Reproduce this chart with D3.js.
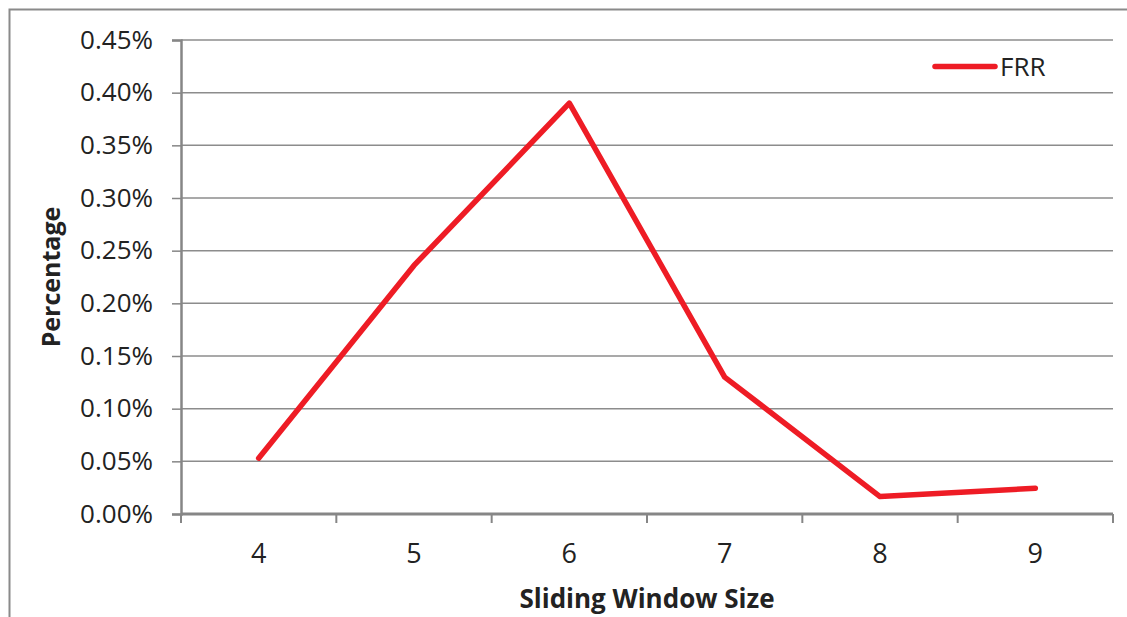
<!DOCTYPE html>
<html>
<head>
<meta charset="utf-8">
<script src="https://cdn.jsdelivr.net/npm/d3@7"></script>
<style>
  html, body { margin: 0; padding: 0; background: #fff; }
  svg { display: block; }
  text { font-family: "Open Sans", "Liberation Sans", sans-serif; fill: #222; }
</style>
</head>
<body>
<svg id="chart" width="1127" height="617"></svg>
<script>
// Window sizes on the x axis and the FRR measured for each (in %)
const windowSizes = ["4", "5", "6", "7", "8", "9"];
const frrValues = [0.053, 0.236, 0.390, 0.130, 0.0165, 0.0245];
const yTicks = [0, 0.05, 0.10, 0.15, 0.20, 0.25, 0.30, 0.35, 0.40, 0.45];
const seriesName = "FRR";
const xTitle = "Sliding Window Size";
const yTitle = "Percentage";

const svg = d3.select("#chart");
const plot = { left: 181, right: 1113, top: 40, bottom: 514 };

// Outer chart border
svg.append("rect")
  .attr("x", 9.5).attr("y", 9.5)
  .attr("width", 1130).attr("height", 620)
  .attr("fill", "none").attr("stroke", "#8a8a8a").attr("stroke-width", 2);

const x = d3.scaleBand().domain(windowSizes).range([plot.left, plot.right]);
const y = d3.scaleLinear().domain([0, 0.45]).range([plot.bottom, plot.top]);

// Horizontal gridlines
svg.append("g").selectAll("line")
  .data(yTicks.filter(d => d > 0))
  .join("line")
  .attr("x1", plot.left).attr("x2", plot.right)
  .attr("y1", d => y(d)).attr("y2", d => y(d))
  .attr("stroke", "#8c8c8c").attr("stroke-width", 1.5);

// Y axis with percent labels
const yAxis = d3.axisLeft(y)
  .tickValues(yTicks)
  .tickFormat(d => d.toFixed(2) + "%")
  .tickSize(9).tickPadding(19);
const gy = svg.append("g").attr("transform", `translate(${plot.left},0)`).call(yAxis);
gy.select(".domain").attr("stroke", "#868686").attr("stroke-width", 2.5);
gy.selectAll(".tick line").attr("stroke", "#868686").attr("stroke-width", 1.5);
gy.selectAll(".tick text").style("font-size", "26px").attr("fill", "#222");

// X axis: ticks at category boundaries, labels at category centres
const gx = svg.append("g").attr("transform", `translate(0,${plot.bottom})`);
gx.append("line")
  .attr("x1", plot.left).attr("x2", plot.right)
  .attr("stroke", "#868686").attr("stroke-width", 3);
const boundaries = windowSizes.map(d => x(d)).concat([x(windowSizes[windowSizes.length - 1]) + x.bandwidth()]);
gx.selectAll("line.tk").data(boundaries).join("line").attr("class", "tk")
  .attr("x1", d => d).attr("x2", d => d)
  .attr("y1", 0).attr("y2", 9)
  .attr("stroke", "#868686").attr("stroke-width", 2);
gx.selectAll("text").data(windowSizes).join("text")
  .attr("x", d => x(d) + x.bandwidth() / 2)
  .attr("y", 49)
  .attr("text-anchor", "middle")
  .style("font-size", "27px")
  .text(d => d);

// FRR line
const line = d3.line()
  .x((d, i) => x(windowSizes[i]) + x.bandwidth() / 2)
  .y(d => y(d));
svg.append("path")
  .datum(frrValues)
  .attr("d", line)
  .attr("fill", "none")
  .attr("stroke", "#ee1c25")
  .attr("stroke-width", 5.5)
  .attr("stroke-linecap", "round")
  .attr("stroke-linejoin", "round");

// Legend
const lg = svg.append("g");
lg.append("line")
  .attr("x1", 935).attr("x2", 995).attr("y1", 66.5).attr("y2", 66.5)
  .attr("stroke", "#ee1c25").attr("stroke-width", 5.5).attr("stroke-linecap", "round");
lg.append("text")
  .attr("x", 1000).attr("y", 76)
  .style("font-size", "26px")
  .text(seriesName);

// Axis titles
svg.append("text")
  .attr("x", (plot.left + plot.right) / 2).attr("y", 608)
  .attr("text-anchor", "middle")
  .style("font-size", "26px").style("font-weight", "bold")
  .text(xTitle);
svg.append("text")
  .attr("transform", `translate(60,${(plot.top + plot.bottom) / 2}) rotate(-90)`)
  .attr("text-anchor", "middle")
  .style("font-size", "25px").style("font-weight", "bold")
  .text(yTitle);
</script>
</body>
</html>
